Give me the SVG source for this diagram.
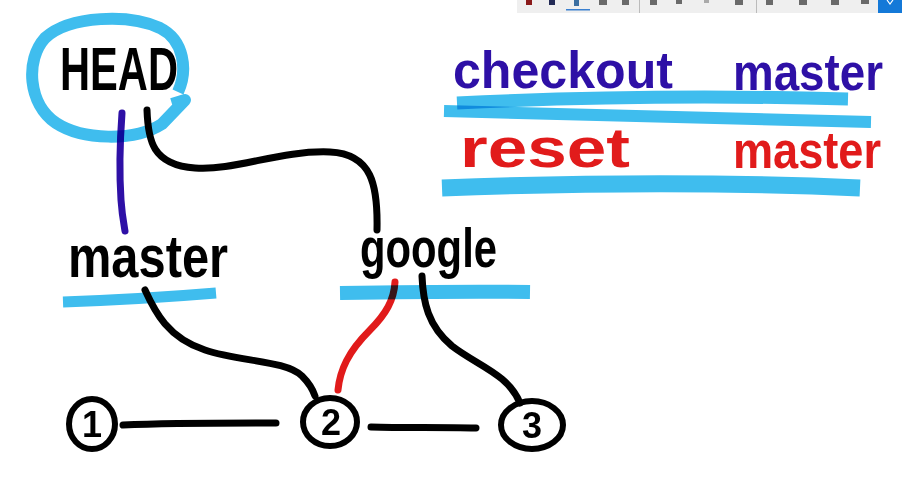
<svg xmlns="http://www.w3.org/2000/svg" width="902" height="486" viewBox="0 0 902 486">
<style>
.hl{fill:none;stroke:#3FBDEE;mix-blend-mode:multiply;stroke-linecap:butt;stroke-linejoin:round}
.ink{fill:none;stroke-linecap:round;stroke-linejoin:round}
.k{stroke:#000;stroke-width:7}
.p{stroke:#2E10A6;stroke-width:7}
.r{stroke:#E11B1B;stroke-width:7}
.t{font-family:"Liberation Sans","DejaVu Sans",sans-serif;font-weight:bold}
.circ{fill:none;stroke:#000;stroke-width:6}
.ic{fill:#6a6a6a}
</style>
<rect width="902" height="486" fill="#fff"/>
<g id="toolbar">
<rect x="517" y="0" width="385" height="13" fill="#EFEFEF"/>
<rect x="526" y="0" width="6" height="5" fill="#8a1a1a"/>
<rect x="549" y="0" width="6" height="5" fill="#222a55"/>
<rect x="574" y="0" width="5" height="6" fill="#3a6ea0"/>
<rect x="566" y="9" width="24" height="1.5" fill="#3a80d0"/>
<rect x="599" y="0" width="8" height="5" class="ic"/>
<rect x="622" y="0" width="7" height="5" class="ic"/>
<rect x="639" y="0" width="1" height="13" fill="#bbb"/>
<rect x="650" y="0" width="7" height="5" class="ic"/>
<rect x="676" y="0" width="6" height="4" class="ic"/>
<rect x="704" y="0" width="5" height="3" fill="#aaa"/>
<rect x="735" y="0" width="8" height="5" class="ic"/>
<rect x="756" y="0" width="1" height="13" fill="#bbb"/>
<rect x="766" y="0" width="7" height="5" class="ic"/>
<rect x="799" y="0" width="8" height="5" class="ic"/>
<rect x="831" y="0" width="8" height="5" class="ic"/>
<rect x="861" y="0" width="8" height="4" class="ic"/>
<rect x="878" y="0" width="24" height="13" fill="#1479D8"/>
<path d="M887,0 L890,4 L893,0" stroke="#fff" stroke-width="1.2" fill="none"/>
</g>
<g id="connectors" class="ink">
<path class="p" d="M122,113 C120,140 119,170 121,200 C122,215 124,225 125,231"/>
<path class="k" d="M147,110 C148,140 152,165 195,168 C235,171 280,150 330,152 C372,154 378,185 377,230"/>
<path class="k" d="M145,290 C155,312 168,338 205,350 C240,362 285,360 302,376 C309,383 313,390 315,396"/>
<path class="r" d="M395,282 C394,300 386,314 370,330 C348,352 340,370 338,390"/>
<path class="k" d="M422,276 C423,302 428,326 452,346 C478,366 508,374 520,403"/>
<path class="k" d="M123,425 C170,423 230,423 276,423"/>
<path class="k" d="M371,427 C405,428 440,427 476,428"/>
</g>
<g id="HEAD">
<text class="t" x="60" y="90" font-size="62" textLength="118" lengthAdjust="spacingAndGlyphs" fill="#000">HEAD</text>
<path class="hl" stroke-width="12" d="M178,92 C188,70 184,40 160,28 C130,14 70,15 45,38 C25,60 28,104 56,123 C82,140 134,142 162,124 L185,100 L172,104"/>
</g>
<g id="master">
<text class="t" x="68" y="277" font-size="60" textLength="160" lengthAdjust="spacingAndGlyphs" fill="#000">master</text>
<path class="hl" stroke-width="11" d="M63,302 C120,300 180,296 216,293"/>
</g>
<g id="google">
<text class="t" x="360" y="267" font-size="55" textLength="137" lengthAdjust="spacingAndGlyphs" fill="#000">google</text>
<path class="hl" stroke-width="14" d="M340,293 C400,292 470,291 530,292"/>
</g>
<g id="c1">
<ellipse class="circ" cx="92" cy="424" rx="23" ry="25"/>
<text class="t" x="92" y="437" font-size="36" text-anchor="middle" fill="#000">1</text>
</g>
<g id="c2">
<ellipse class="circ" cx="330" cy="422" rx="27" ry="24"/>
<text class="t" x="331" y="435" font-size="36" text-anchor="middle" fill="#000">2</text>
</g>
<g id="c3">
<ellipse class="circ" cx="532" cy="425" rx="31" ry="24"/>
<text class="t" x="532" y="438" font-size="36" text-anchor="middle" fill="#000">3</text>
</g>
<g id="commands">
<text class="t" x="453" y="88" font-size="52" textLength="220" lengthAdjust="spacingAndGlyphs" fill="#2E10A6">checkout</text>
<text class="t" x="733" y="90" font-size="52" textLength="150" lengthAdjust="spacingAndGlyphs" fill="#2E10A6">master</text>
<text class="t" x="460" y="167" font-size="56" textLength="170" lengthAdjust="spacingAndGlyphs" fill="#E11B1B">reset</text>
<text class="t" x="733" y="168" font-size="52" textLength="148" lengthAdjust="spacingAndGlyphs" fill="#E11B1B">master</text>
<path class="hl" stroke-width="13" d="M457,103 C560,98 700,95 848,99"/>
<path class="hl" stroke-width="12" d="M444,111 C600,115 750,118 871,122"/>
<path class="hl" stroke-width="17" d="M442,188 C600,182 750,183 860,188"/>
</g>
</svg>
